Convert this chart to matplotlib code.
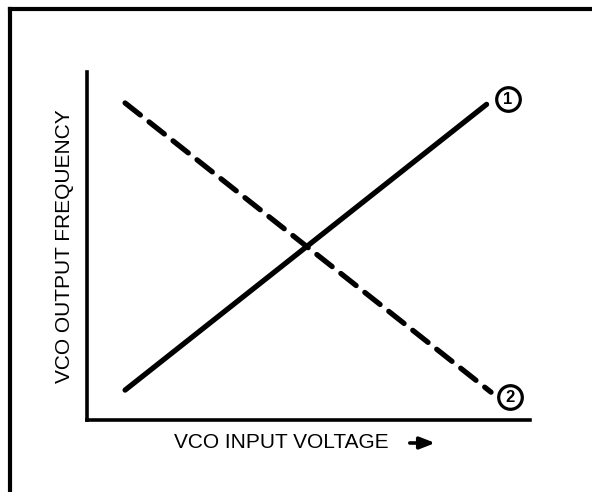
import matplotlib
matplotlib.use("Agg")
import matplotlib.pyplot as plt
from matplotlib.lines import Line2D
from matplotlib.patches import FancyArrowPatch

plt.rcParams['font.family'] = ['Liberation Sans', 'DejaVu Sans']
plt.rcParams['lines.scale_dashes'] = False

# Data (axis units 0..10)
solid_x = [0.86, 9.02]
solid_y = [0.86, 9.07]
dashed_x = [0.86, 9.12]
dashed_y = [9.11, 0.80]
marker_labels = ["1", "2"]
marker_x = [9.50, 9.55]
marker_y = [9.22, 0.66]
xlabel = "VCO INPUT VOLTAGE"
ylabel = "VCO OUTPUT FREQUENCY"

W, H = 592, 492
fig = plt.figure(figsize=(W / 100, H / 100), dpi=100)

# outer border (left and top)
fig.add_artist(Line2D([10 / W, 10 / W], [0, 1 - 9 / H], color='black', lw=3.0,
                      solid_capstyle='projecting', transform=fig.transFigure))
fig.add_artist(Line2D([10 / W, 1], [1 - 9 / H, 1 - 9 / H], color='black', lw=3.0,
                      solid_capstyle='projecting', transform=fig.transFigure))

x0, x1 = 87, 530
y0, y1 = 72, 420
ax = fig.add_axes([x0 / W, 1 - y1 / H, (x1 - x0) / W, (y1 - y0) / H])
ax.set_xlim(0, 10)
ax.set_ylim(0, 10)
for s in ['top', 'right']:
    ax.spines[s].set_visible(False)
for s in ['left', 'bottom']:
    ax.spines[s].set_linewidth(2.6)
    ax.spines[s].set_capstyle('projecting')
ax.set_xticks([])
ax.set_yticks([])
ax.patch.set_alpha(0)

ax.plot(solid_x, solid_y, color='black', lw=3.8, solid_capstyle='round', clip_on=False)
ax.plot(dashed_x, dashed_y, color='black', lw=3.8, dashes=(14, 8), dash_capstyle='round', clip_on=False)

for lab, mx, my in zip(marker_labels, marker_x, marker_y):
    ax.plot([mx], [my], marker='o', markersize=17, markerfacecolor='white',
            markeredgecolor='black', markeredgewidth=2.3, clip_on=False, zorder=5)
    ax.text(mx, my, lab, ha='center', va='center', fontsize=12, fontweight='bold', zorder=6)

fig.text(281 / W, 1 - 443 / H, xlabel, ha='center', va='center', fontsize=15)
fig.text(65 / W, 1 - 246 / H, ylabel, ha='center', va='center', fontsize=15, rotation=90)

fig.add_artist(FancyArrowPatch(
    (407 / W, 1 - 443 / H), (438 / W, 1 - 443 / H), transform=fig.transFigure,
    arrowstyle='-|>,head_length=9,head_width=3.5', mutation_scale=1, lw=2.6, color='black'))

fig.savefig("out.png", dpi=100, facecolor='white')
